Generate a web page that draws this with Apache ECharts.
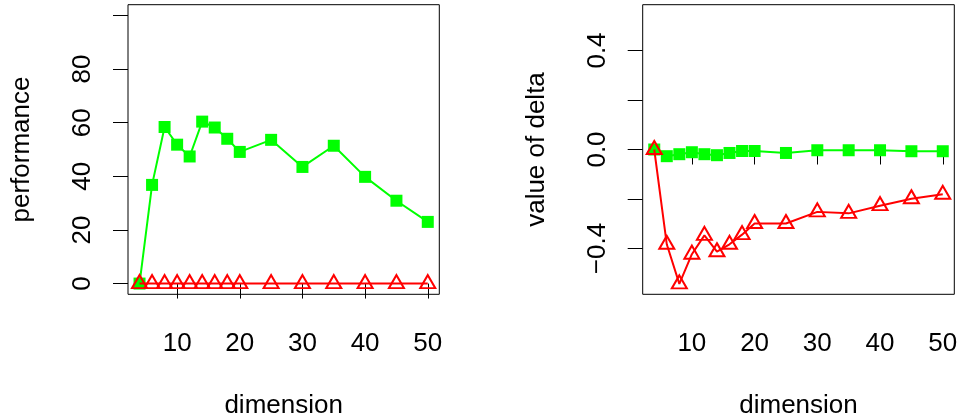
<!DOCTYPE html>
<html>
<head>
<meta charset="utf-8">
<script src="https://cdn.jsdelivr.net/npm/echarts@6/dist/echarts.min.js"></script>
<style>html,body{margin:0;padding:0;background:#fff;}#c{width:960px;height:419px;}</style>
</head>
<body>
<div id="c"></div>
<script>
var dims = [4, 6, 8, 10, 12, 14, 16, 18, 20, 25, 30, 35, 40, 45, 50];
var perfGreen = [0, 36.8, 58.4, 51.8, 47.4, 60.4, 58.2, 54.0, 49.1, 53.6, 43.5, 51.4, 39.8, 30.9, 23.0];
var perfRed = [0, 0, 0, 0, 0, 0, 0, 0, 0, 0, 0, 0, 0, 0, 0];
var deltaGreen = [0, -0.027, -0.019, -0.011, -0.019, -0.023, -0.014, -0.006, -0.006, -0.014, -0.003, -0.003, -0.003, -0.007, -0.007];
var deltaRed = [0, -0.383, -0.543, -0.423, -0.347, -0.413, -0.383, -0.344, -0.299, -0.299, -0.252, -0.258, -0.227, -0.199, -0.181];
var xTicks = [10, 20, 30, 40, 50];
var perfTicks = [0, 20, 40, 60, 80, 100];
var perfLabels = [0, 20, 40, 60, 80];
var deltaTicks = [-0.4, -0.2, 0, 0.2, 0.4];
var deltaLabels = [-0.4, 0, 0.4];

function pairs(xs, ys) { return xs.map(function (x, i) { return [x, ys[i]]; }); }

var FONT = 'Liberation Sans';
var FS = 26;
var GREEN = '#00ff00';
var RED = '#ff0000';

function xAxisDef(idx) {
  return {
    type: 'value', gridIndex: idx, min: 2.16, max: 51.84,
    name: 'dimension', nameLocation: 'middle', nameGap: 99,
    nameTextStyle: { fontFamily: FONT, fontSize: FS, color: '#000' },
    axisLine: { show: false },
    axisTick: { show: true, length: 15, lineStyle: { color: '#000', width: 1 }, customValues: xTicks },
    axisLabel: { show: true, margin: 37, fontFamily: FONT, fontSize: FS, color: '#000', customValues: xTicks },
    splitLine: { show: false }
  };
}

function yAxisDef(idx, min, max, ticks, labels, name, fmt) {
  return {
    type: 'value', gridIndex: idx, min: min, max: max,
    name: name, nameLocation: 'middle', nameGap: 93, nameRotate: 90,
    nameTextStyle: { fontFamily: FONT, fontSize: FS, color: '#000' },
    axisLine: { show: false },
    axisTick: { show: true, length: 15, lineStyle: { color: '#000', width: 1 }, customValues: ticks },
    axisLabel: { show: true, rotate: 90, margin: 32, fontFamily: FONT, fontSize: FS, color: '#000', customValues: labels, formatter: fmt },
    splitLine: { show: false }
  };
}

function greenSeries(xi, data) {
  return {
    type: 'line', xAxisIndex: xi, yAxisIndex: xi, data: data,
    symbol: 'rect', symbolSize: 12,
    lineStyle: { color: GREEN, width: 2 },
    itemStyle: { color: GREEN, borderWidth: 0 },
    animation: false, silent: true, z: 2
  };
}
function redSeries(xi, data) {
  return {
    type: 'line', xAxisIndex: xi, yAxisIndex: xi, data: data,
    symbol: 'triangle', symbolSize: [15, 13], symbolOffset: [0, -2],
    showAllSymbol: true,
    lineStyle: { color: RED, width: 2 },
    itemStyle: { color: 'rgba(255,255,255,0)', borderColor: RED, borderWidth: 2 },
    animation: false, silent: true, z: 3
  };
}

var chart = echarts.init(document.getElementById('c'), null, { renderer: 'canvas' });
chart.setOption({
  backgroundColor: '#fff',
  animation: false,
  grid: [
    { left: 128, top: 4.7, width: 311.3, height: 289.6, show: true, borderColor: '#000', borderWidth: 1, backgroundColor: 'transparent', containLabel: false, outerBoundsMode: 'none' },
    { left: 642.7, top: 4.7, width: 311.6, height: 289.6, show: true, borderColor: '#000', borderWidth: 1, backgroundColor: 'transparent', containLabel: false, outerBoundsMode: 'none' }
  ],
  xAxis: [xAxisDef(0), xAxisDef(1)],
  yAxis: [
    yAxisDef(0, -4, 104, perfTicks, perfLabels, 'performance', function (v) { return String(v); }),
    yAxisDef(1, -0.585, 0.585, deltaTicks, deltaLabels, 'value of delta', function (v) { return v.toFixed(1).replace('-', '\u2212'); })
  ],
  series: [
    greenSeries(0, pairs(dims, perfGreen)),
    redSeries(0, pairs(dims, perfRed)),
    greenSeries(1, pairs(dims, deltaGreen)),
    redSeries(1, pairs(dims, deltaRed))
  ]
});
</script>
</body>
</html>
